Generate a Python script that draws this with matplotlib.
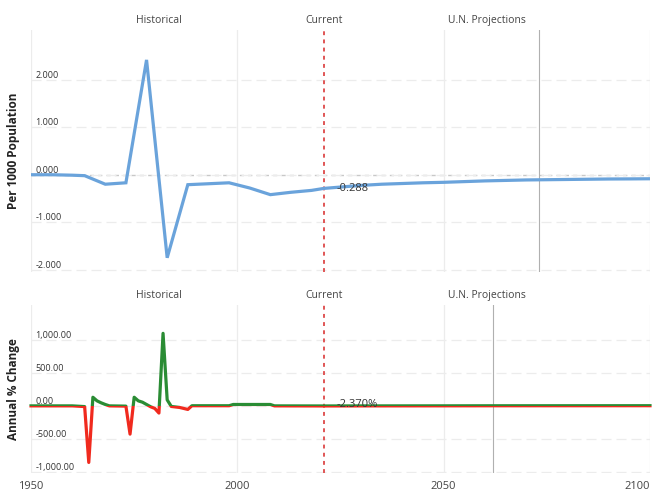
import matplotlib
matplotlib.use("Agg")
import matplotlib.pyplot as plt
from matplotlib.patches import Rectangle

plt.rcParams['font.family'] = ['Open Sans', 'DejaVu Sans']

# ---------------- data ----------------
rate_years = [1950, 1955, 1960, 1963, 1968, 1973, 1978, 1983, 1988, 1993, 1998, 2003,
              2008, 2013, 2018, 2021, 2025, 2030, 2035, 2040, 2045, 2050, 2055, 2060,
              2065, 2070, 2075, 2080, 2085, 2090, 2095, 2100]
rate_values = [0.0, 0.0, -0.01, -0.02, -0.2, -0.17, 2.42, -1.75, -0.21, -0.19, -0.17, -0.28,
               -0.42, -0.37, -0.33, -0.288, -0.26, -0.225, -0.2, -0.185, -0.17, -0.16, -0.145, -0.13,
               -0.12, -0.11, -0.105, -0.1, -0.095, -0.09, -0.088, -0.085]

chg_years = [1950, 1955, 1960, 1963, 1964, 1965, 1966, 1967, 1968, 1969, 1973, 1974, 1975,
             1976, 1977, 1978, 1979, 1980, 1981, 1982, 1983, 1984, 1986, 1987, 1988, 1989,
             1998, 1999, 2008, 2009, 2021, 2030, 2050, 2062, 2080, 2100]
chg_values = [-1, -1, -1, -12, -860, 130, 75, 45, 20, -1, -5, -430, 130,
              75, 55, 20, -15, -40, -110, 1100, 90, -10, -25, -40, -55, 1,
              1, 20, 20, -1, -2.37, -1.5, -0.5, 0.5, 1, 1.5]

top_yticks = [-2, -1, 0, 1, 2]
top_ylabels = ['-2.000', '-1.000', '0.000', '1.000', '2.000']
bot_yticks = [-1000, -500, 0, 500, 1000]
bot_ylabels = ['-1,000.00', '-500.00', '0.00', '500.00', '1,000.00']
x_ticks = [1950, 2000, 2050, 2100]
x_labels = ['1950', '2000', '2050', '2100']

section_labels = ['Historical', 'Current', 'U.N. Projections']
section_years = [1981, 2021, 2060.5]
current_year = 2021
top_rate_label = '-0.288'
bot_chg_label = '-2.370%'
top_cursor_year = 2073
bot_cursor_year = 2062

BLUE = '#6aa3db'
GREEN = '#2a8c34'
RED = '#f02a1e'
GRID = '#ececec'

W, H = 661, 495
fig = plt.figure(figsize=(W / 100, H / 100), dpi=100)
fig.patch.set_facecolor('white')

ax1 = fig.add_axes([31 / W, 1 - 272 / H, (650 - 31) / W, (272 - 30) / H])
ax2 = fig.add_axes([31 / W, 1 - 473 / H, (650 - 31) / W, (473 - 305) / H])


def style_axis(ax, yticks, ylabels, ylim):
    ax.set_xlim(1950, 2100)
    ax.set_ylim(*ylim)
    for s in ax.spines.values():
        s.set_visible(False)
    ax.set_yticks(yticks)
    ax.set_yticklabels(ylabels)
    ax.tick_params(axis='y', length=0, pad=-3, labelsize=6.5, labelcolor='#333333')
    plt.setp(ax.get_yticklabels(), ha='left', va='bottom')
    ax.set_xticks(x_ticks)
    ax.grid(axis='y', color=GRID, linestyle=(0, (8, 4)), linewidth=0.9, zorder=0)
    ax.grid(axis='x', color=GRID, linestyle='-', linewidth=0.9, zorder=0)
    # current marker
    ax.axvline(current_year, color='#e05555', linestyle=(0, (2, 2.2)), linewidth=1.4, zorder=3)
    for lbl, yr in zip(section_labels, section_years):
        ax.annotate(lbl, xy=(yr, 1.0), xycoords=('data', 'axes fraction'),
                    xytext=(0, 3), textcoords='offset points', ha='center', va='bottom',
                    fontsize=7.5, color='#444444')


# ---------------- top panel ----------------
style_axis(ax1, top_yticks, top_ylabels, (-2.05, 3.05))
ax1.tick_params(axis='x', length=0, labelbottom=False)
ax1.axhline(0, color='#c8c8c8', linestyle=(0, (3, 3)), linewidth=1.0, zorder=1)
ax1.axvline(top_cursor_year, color='#b0b0b0', linewidth=0.8, zorder=1)
ax1.plot(rate_years, rate_values, color=BLUE, linewidth=2.3, solid_joinstyle='miter', zorder=4)
ax1.annotate(top_rate_label, xy=(current_year, rate_values[rate_years.index(current_year)]),
             xytext=(9, 0), textcoords='offset points', ha='left', va='center',
             fontsize=8, color='#333333', zorder=5)
ax1.set_ylabel('Per 1000 Population', fontsize=8.5, fontweight='bold', color='#222222')
ax1.yaxis.set_label_coords(-0.018, 0.5)

# ---------------- bottom panel ----------------
style_axis(ax2, bot_yticks, bot_ylabels, (-1020, 1530))
ax2.set_xticklabels(x_labels)
ax2.tick_params(axis='x', length=0, pad=6, labelsize=8, labelcolor='#444444')
xt = ax2.get_xticklabels()
xt[-1].set_ha('right')
ax2.axvline(bot_cursor_year, color='#b0b0b0', linewidth=0.8, zorder=1)

above = Rectangle((1900, 0), 300, 5000, transform=ax2.transData)
below = Rectangle((1900, -5000), 300, 5000, transform=ax2.transData)
l_red, = ax2.plot(chg_years, chg_values, color=RED, linewidth=2.3, zorder=4)
l_red.set_clip_path(below)
l_green, = ax2.plot(chg_years, chg_values, color=GREEN, linewidth=2.3, zorder=4)
l_green.set_clip_path(above)

ax2.annotate(bot_chg_label, xy=(current_year, -2.37),
             xytext=(9, 1), textcoords='offset points', ha='left', va='center',
             fontsize=8, color='#333333', zorder=5)
ax2.set_ylabel('Annual % Change', fontsize=8.5, fontweight='bold', color='#222222')
ax2.yaxis.set_label_coords(-0.018, 0.5)

fig.savefig('out.png', dpi=100, facecolor='white')
